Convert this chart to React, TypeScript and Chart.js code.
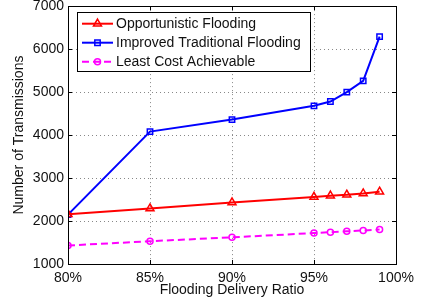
import React, { useEffect, useRef } from 'react';
import { Chart, registerables } from 'chart.js';
import { drawPoint } from 'chart.js/helpers';

Chart.register(...registerables);

const deliveryRatio = [80, 85, 90, 95, 96, 97, 98, 99];
const opportunisticFlooding = [2160, 2290, 2430, 2560, 2590, 2610, 2640, 2680];
const improvedTraditional = [2150, 4080, 4360, 4680, 4780, 5000, 5260, 6290];
const leastCost = [1430, 1530, 1620, 1720, 1740, 1760, 1780, 1800];
const xTickValues = [80, 85, 90, 95, 100];
const yTickValues = [1000, 2000, 3000, 4000, 5000, 6000, 7000];
const seriesLabels = ['Opportunistic Flooding', 'Improved Traditional Flooding', 'Least Cost Achievable'];
const xTitle = 'Flooding Delivery Ratio';
const yTitle = 'Number of Transmissions';

const FONT_FAMILY = '"Liberation Sans", Arial, Helvetica, sans-serif';
const TEXT_COLOR = '#111';

const toPoints = (vals: number[]) => deliveryRatio.map((x, i) => ({ x, y: vals[i] }));

const framePlugin = {
  id: 'matlabFrame',
  afterDatasetsDraw(chart: any) {
    const { ctx, chartArea, scales } = chart;
    const { left, right, top, bottom } = chartArea;
    ctx.save();
    ctx.strokeStyle = '#000';
    ctx.lineWidth = 1;
    ctx.setLineDash([]);
    const tl = 4;
    ctx.beginPath();
    scales.x.ticks.forEach((t: any) => {
      const px = Math.round(scales.x.getPixelForValue(t.value)) + 0.5;
      ctx.moveTo(px, bottom);
      ctx.lineTo(px, bottom - tl);
      ctx.moveTo(px, top);
      ctx.lineTo(px, top + tl);
    });
    scales.y.ticks.forEach((t: any) => {
      const py = Math.round(scales.y.getPixelForValue(t.value)) + 0.5;
      ctx.moveTo(left, py);
      ctx.lineTo(left + tl, py);
      ctx.moveTo(right, py);
      ctx.lineTo(right - tl, py);
    });
    ctx.stroke();
    ctx.strokeRect(Math.round(left) + 0.5, Math.round(top) + 0.5, Math.round(right - left), Math.round(bottom - top));
    ctx.restore();
  },
};

const legendPlugin = {
  id: 'matlabLegend',
  afterDraw(chart: any) {
    const { ctx, chartArea } = chart;
    const items = chart.data.datasets;
    ctx.save();
    ctx.font = `14px ${FONT_FAMILY}`;
    const x0 = Math.round(chartArea.left) + 9;
    const y0 = Math.round(chartArea.top) + 6;
    const rowH = 19;
    const lineStart = 5;
    const lineLen = 31;
    const gap = 3;
    const maxW = Math.max(...items.map((d: any) => ctx.measureText(d.label).width));
    const w = Math.round(lineStart + lineLen + gap + maxW + 9);
    const h = 59;
    ctx.fillStyle = '#fff';
    ctx.fillRect(x0, y0, w, h);
    ctx.strokeStyle = '#000';
    ctx.lineWidth = 1;
    ctx.strokeRect(x0 + 0.5, y0 + 0.5, w, h);
    items.forEach((d: any, i: number) => {
      const cy = y0 + 11.7 + i * rowH;
      ctx.save();
      ctx.strokeStyle = d.borderColor;
      ctx.lineWidth = d.borderWidth;
      ctx.setLineDash(d.borderDash || []);
      ctx.beginPath();
      ctx.moveTo(x0 + lineStart, cy);
      ctx.lineTo(x0 + lineStart + lineLen, cy);
      ctx.stroke();
      ctx.setLineDash([]);
      ctx.fillStyle = 'rgba(0,0,0,0)';
      ctx.lineWidth = d.pointBorderWidth;
      drawPoint(ctx, { pointStyle: d.pointStyle, rotation: 0, radius: d.pointRadius, borderWidth: d.pointBorderWidth }, x0 + lineStart + lineLen / 2, cy);
      ctx.restore();
      ctx.fillStyle = TEXT_COLOR;
      ctx.textBaseline = 'middle';
      ctx.textAlign = 'left';
      ctx.fillText(d.label, x0 + lineStart + lineLen + gap, cy);
    });
    ctx.restore();
  },
};

export default function App() {
  const canvasRef = useRef<HTMLCanvasElement | null>(null);

  useEffect(() => {
    if (!canvasRef.current) return;
    const chart = new Chart(canvasRef.current, {
      type: 'line',
      data: {
        datasets: [
          {
            label: seriesLabels[0],
            data: toPoints(opportunisticFlooding),
            borderColor: '#ff0000',
            borderWidth: 2,
            pointStyle: 'triangle',
            pointRadius: 4.6,
            pointBorderWidth: 1.5,
            pointBorderColor: '#ff0000',
            pointBackgroundColor: 'rgba(0,0,0,0)',
            tension: 0,
            fill: false,
          } as any,
          {
            label: seriesLabels[1],
            data: toPoints(improvedTraditional),
            borderColor: '#0000ff',
            borderWidth: 2,
            pointStyle: 'rect',
            pointRadius: 3.8,
            pointBorderWidth: 1.5,
            pointBorderColor: '#0000ff',
            pointBackgroundColor: 'rgba(0,0,0,0)',
            tension: 0,
            fill: false,
          },
          {
            label: seriesLabels[2],
            data: toPoints(leastCost),
            borderColor: '#ff00ff',
            borderWidth: 2,
            borderDash: [7, 4],
            pointStyle: 'circle',
            pointRadius: 3,
            pointBorderWidth: 1.5,
            pointBorderColor: '#ff00ff',
            pointBackgroundColor: 'rgba(0,0,0,0)',
            tension: 0,
            fill: false,
          },
        ],
      },
      options: {
        responsive: false,
        animation: false,
        layout: { padding: { left: 0, right: 38, top: 5, bottom: 0 } },
        plugins: {
          legend: { display: false },
          tooltip: { enabled: false },
        },
        scales: {
          x: {
            type: 'linear',
            min: 80,
            max: 100,
            afterBuildTicks: (scale: any) => {
              scale.ticks = xTickValues.map((v) => ({ value: v }));
            },
            afterFit: (scale: any) => {
              scale.height = 41;
              scale.paddingLeft = 0;
              scale.paddingRight = 0;
              scale.paddingTop = 0;
              scale.paddingBottom = 0;
            },
            ticks: {
              callback: (v: any) => `${v}%`,
              color: TEXT_COLOR,
              font: { family: FONT_FAMILY, size: 14 },
              padding: 6,
              maxRotation: 0,
              autoSkip: false,
            },
            grid: { color: '#888', lineWidth: 1, drawTicks: false },
            border: { display: false, dash: [1, 3] },
            title: {
              display: true,
              text: xTitle,
              color: TEXT_COLOR,
              font: { family: FONT_FAMILY, size: 14 },
              padding: { top: 0, bottom: 6 },
            },
          },
          y: {
            type: 'linear',
            min: 1000,
            max: 7000,
            afterBuildTicks: (scale: any) => {
              scale.ticks = yTickValues.map((v) => ({ value: v }));
            },
            afterFit: (scale: any) => {
              scale.width = 68;
              scale.paddingLeft = 0;
              scale.paddingRight = 0;
              scale.paddingTop = 0;
              scale.paddingBottom = 0;
            },
            ticks: {
              callback: (v: any) => `${v}`,
              color: TEXT_COLOR,
              font: { family: FONT_FAMILY, size: 14 },
              padding: 4,
              autoSkip: false,
            },
            grid: { color: '#888', lineWidth: 1, drawTicks: false },
            border: { display: false, dash: [1, 3] },
            title: {
              display: true,
              text: yTitle,
              color: TEXT_COLOR,
              font: { family: FONT_FAMILY, size: 14 },
              padding: { top: 11, bottom: 0 },
            },
          },
        },
      },
      plugins: [framePlugin, legendPlugin],
    });
    return () => chart.destroy();
  }, []);

  return (
    <div style={{ position: 'absolute', left: 0, top: 0, width: 434, height: 305 }}>
      <canvas ref={canvasRef} width={434} height={305} style={{ display: 'block', width: 434, height: 305 }} />
    </div>
  );
}
